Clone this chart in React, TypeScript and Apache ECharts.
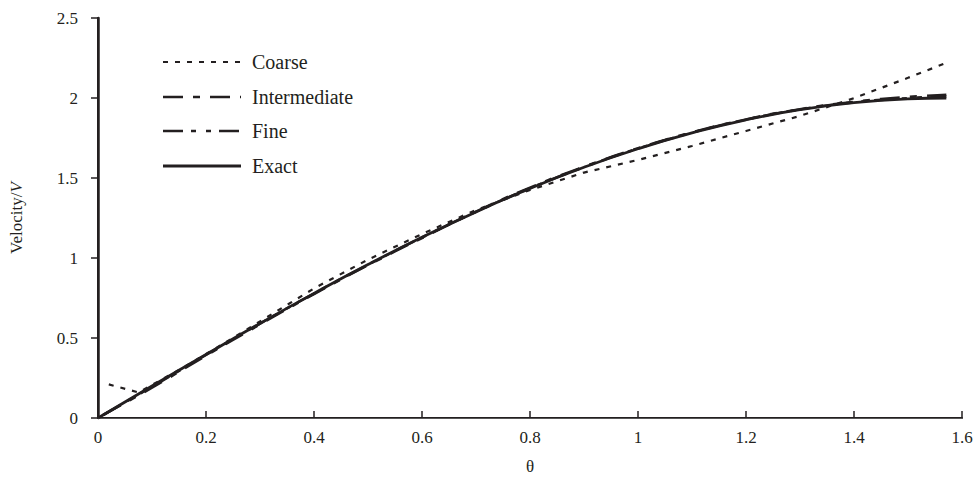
import React, { useEffect, useRef } from "react";
import * as echarts from "echarts";

const xTicks = [0, 0.2, 0.4, 0.6, 0.8, 1, 1.2, 1.4, 1.6];
const yTicks = [0, 0.5, 1, 1.5, 2, 2.5];

const coarseTheta = [0.02, 0.075, 0.15, 0.25, 0.4, 0.5, 0.6, 0.7, 0.8, 0.9, 1.0, 1.1, 1.2, 1.3, 1.4, 1.5, 1.571];
const coarseValues = [0.21, 0.16, 0.3, 0.5, 0.81, 0.99, 1.15, 1.3, 1.425, 1.534, 1.613, 1.7, 1.794, 1.888, 1.999, 2.126, 2.22];

const intermediateTheta = [0.01, 0.1, 0.2, 0.3, 0.4, 0.5, 0.6, 0.7, 0.8, 0.9, 1.0, 1.1, 1.2, 1.3, 1.4, 1.5, 1.571];
const intermediateValues = [0.02, 0.19, 0.39, 0.585, 0.775, 0.955, 1.125, 1.29, 1.44, 1.57, 1.686, 1.785, 1.866, 1.93, 1.976, 2.006, 2.02];

const fineTheta = [0.01, 0.1, 0.2, 0.3, 0.4, 0.5, 0.6, 0.7, 0.8, 0.9, 1.0, 1.1, 1.2, 1.3, 1.4, 1.5, 1.571];
const fineValues = [0.02, 0.195, 0.395, 0.59, 0.778, 0.958, 1.128, 1.288, 1.436, 1.568, 1.684, 1.783, 1.865, 1.928, 1.973, 1.999, 2.01];

const exactTheta = [0, 0.1, 0.2, 0.3, 0.4, 0.5, 0.6, 0.7, 0.8, 0.9, 1.0, 1.1, 1.2, 1.3, 1.4, 1.5, 1.571];
const exactValues = [0, 0.2, 0.397, 0.591, 0.779, 0.959, 1.129, 1.288, 1.435, 1.567, 1.683, 1.782, 1.864, 1.927, 1.971, 1.995, 2.0];

const legendNames = ["Coarse", "Intermediate", "Fine", "Exact"];

const INK = "#231f20";
const FONT = "'Liberation Serif', 'Times New Roman', serif";

const pairs = (xs: number[], ys: number[]) => xs.map((x, i) => [x, ys[i]]);

export default function App() {
  const ref = useRef<HTMLDivElement>(null);
  useEffect(() => {
    if (!ref.current) return;
    const chart = echarts.init(ref.current, null, { renderer: "svg" });
    const dashes = [[5, 7], [20, 10, 7, 10], [20, 8, 5, 10, 5, 8], [0]];
    const widths = [2.2, 2.6, 2.6, 2.8];
    const legendGraphics: any[] = [];
    const rowY = [62, 97, 131, 166];
    legendNames.forEach((name, i) => {
      legendGraphics.push({
        type: "line",
        shape: { x1: 163, y1: rowY[i], x2: 241, y2: rowY[i] },
        style: {
          stroke: INK,
          lineWidth: widths[i],
          lineDash: i === 3 ? null : dashes[i],
        },
      });
      legendGraphics.push({
        type: "text",
        x: 252,
        y: rowY[i],
        style: {
          text: name,
          fontFamily: FONT,
          fontSize: 20,
          fill: INK,
          verticalAlign: "middle",
        },
      });
    });
    const mkSeries = (name: string, xs: number[], ys: number[], i: number, smooth: boolean) => ({
      name,
      type: "line",
      data: pairs(xs, ys),
      showSymbol: false,
      smooth,
      lineStyle: {
        color: INK,
        width: widths[i],
        type: i === 3 ? "solid" : dashes[i],
      },
      z: i === 3 ? 3 : 2,
    });
    chart.setOption({
      animation: false,
      backgroundColor: "#ffffff",
      grid: { left: 98, right: 16, top: 18, bottom: 65 },
      textStyle: { fontFamily: FONT, color: INK },
      xAxis: [
        {
          type: "value",
          min: 0,
          max: 1.6,
          interval: 0.2,
          name: "θ",
          nameLocation: "middle",
          nameGap: 40,
          nameTextStyle: { fontFamily: FONT, fontSize: 17, color: INK },
          axisLine: { lineStyle: { color: INK, width: 2 } },
          axisTick: { inside: true, length: 7, lineStyle: { color: INK, width: 1.5 } },
          axisLabel: { fontFamily: FONT, fontSize: 17, color: INK, margin: 11 },
          splitLine: { show: false },
        },
        {
          type: "value",
          position: "top",
          min: 0,
          max: 1.6,
          axisLine: { show: true, lineStyle: { color: "#555", width: 1 } },
          axisTick: { show: false },
          axisLabel: { show: false },
          splitLine: { show: false },
        },
      ],
      yAxis: [
        {
          type: "value",
          min: 0,
          max: 2.5,
          interval: 0.5,
          name: "Velocity/{i|V}",
          nameLocation: "middle",
          nameGap: 73,
          nameRotate: 90,
          nameTextStyle: {
            fontFamily: FONT,
            fontSize: 17,
            color: INK,
            rich: { i: { fontFamily: FONT, fontSize: 17, fontStyle: "italic", color: INK } },
          },
          axisLine: { show: true, lineStyle: { color: INK, width: 2 } },
          axisTick: { show: true, inside: false, length: 7, lineStyle: { color: INK, width: 1.5 } },
          axisLabel: { fontFamily: FONT, fontSize: 17, color: INK, margin: 20 },
          splitLine: { show: false },
        },
        {
          type: "value",
          position: "right",
          min: 0,
          max: 2.5,
          axisLine: { show: true, lineStyle: { color: INK, width: 2.5 } },
          axisTick: { show: false },
          axisLabel: { show: false },
          splitLine: { show: false },
        },
      ],
      graphic: legendGraphics,
      series: [
        mkSeries("Coarse", coarseTheta, coarseValues, 0, false),
        mkSeries("Intermediate", intermediateTheta, intermediateValues, 1, true),
        mkSeries("Fine", fineTheta, fineValues, 2, true),
        mkSeries("Exact", exactTheta, exactValues, 3, true),
      ],
    });
    return () => chart.dispose();
  }, []);
  return <div ref={ref} style={{ width: 978, height: 483, position: "absolute", left: 0, top: 0 }} />;
}
